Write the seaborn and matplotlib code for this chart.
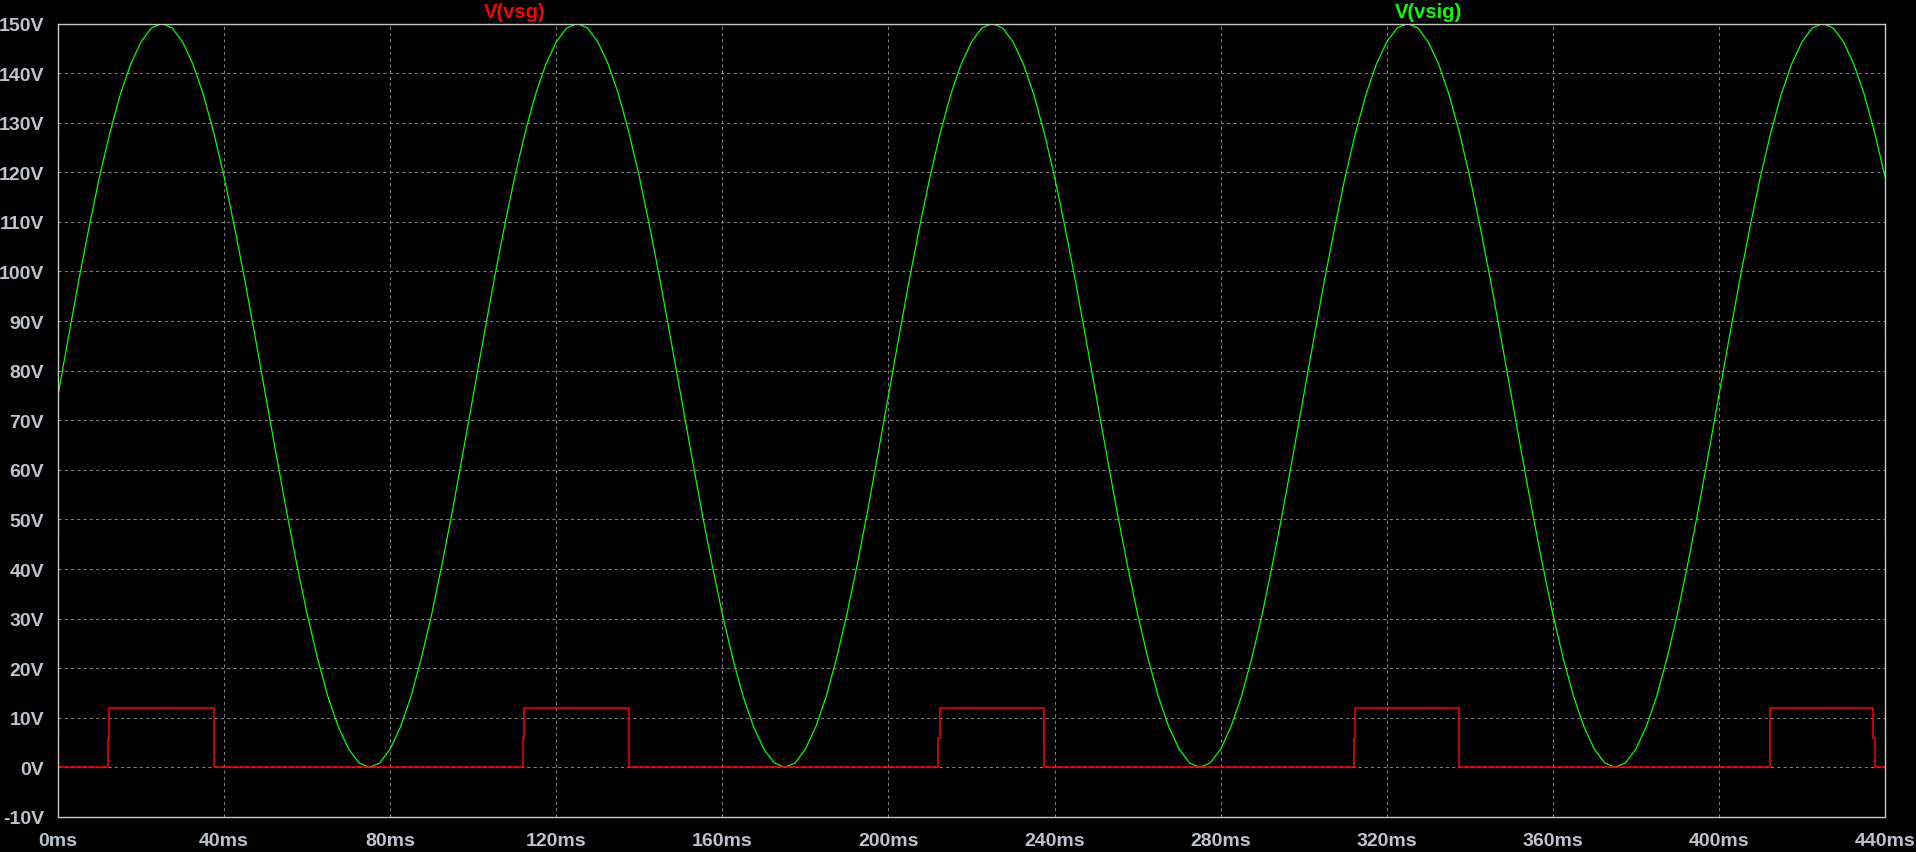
import matplotlib
matplotlib.use("Agg")
import matplotlib.pyplot as plt
import seaborn as sns
import numpy as np
import pandas as pd

# ---------------- data ----------------
vsig_step_ms = 2.5
vsig_v = [
    75.0, 86.7, 98.2, 109.0, 119.1, 128.0, 135.7, 141.8, 146.3, 149.1,
    150.0, 149.1, 146.3, 141.8, 135.7, 128.0, 119.1, 109.0, 98.2, 86.7,
    75.0, 63.3, 51.8, 41.0, 30.9, 22.0, 14.3, 8.2, 3.7, 0.9,
    0.0, 0.9, 3.7, 8.2, 14.3, 22.0, 30.9, 41.0, 51.8, 63.3,
    75.0, 86.7, 98.2, 109.0, 119.1, 128.0, 135.7, 141.8, 146.3, 149.1,
    150.0, 149.1, 146.3, 141.8, 135.7, 128.0, 119.1, 109.0, 98.2, 86.7,
    75.0, 63.3, 51.8, 41.0, 30.9, 22.0, 14.3, 8.2, 3.7, 0.9,
    0.0, 0.9, 3.7, 8.2, 14.3, 22.0, 30.9, 41.0, 51.8, 63.3,
    75.0, 86.7, 98.2, 109.0, 119.1, 128.0, 135.7, 141.8, 146.3, 149.1,
    150.0, 149.1, 146.3, 141.8, 135.7, 128.0, 119.1, 109.0, 98.2, 86.7,
    75.0, 63.3, 51.8, 41.0, 30.9, 22.0, 14.3, 8.2, 3.7, 0.9,
    0.0, 0.9, 3.7, 8.2, 14.3, 22.0, 30.9, 41.0, 51.8, 63.3,
    75.0, 86.7, 98.2, 109.0, 119.1, 128.0, 135.7, 141.8, 146.3, 149.1,
    150.0, 149.1, 146.3, 141.8, 135.7, 128.0, 119.1, 109.0, 98.2, 86.7,
    75.0, 63.3, 51.8, 41.0, 30.9, 22.0, 14.3, 8.2, 3.7, 0.9,
    0.0, 0.9, 3.7, 8.2, 14.3, 22.0, 30.9, 41.0, 51.8, 63.3,
    75.0, 86.7, 98.2, 109.0, 119.1, 128.0, 135.7, 141.8, 146.3, 149.1,
    150.0, 149.1, 146.3, 141.8, 135.7, 128.0, 119.1,
]
vsig_t = [i * vsig_step_ms for i in range(len(vsig_v))]

# V(vsg): gate pulse corners (time in ms, volts)
vsg_t = [0.0, 12.0, 12.0, 12.3, 12.3, 37.5, 37.5,
         112.0, 112.0, 112.3, 112.3, 137.5, 137.5,
         212.0, 212.0, 212.3, 212.3, 237.5, 237.5,
         312.0, 312.0, 312.3, 312.3, 337.5, 337.5,
         412.4, 412.4, 437.2, 437.2, 437.6, 437.6, 440.0]
vsg_v = [0.0, 0.0, 6.0, 6.0, 12.0, 12.0, 0.0,
         0.0, 6.0, 6.0, 12.0, 12.0, 0.0,
         0.0, 6.0, 6.0, 12.0, 12.0, 0.0,
         0.0, 6.0, 6.0, 12.0, 12.0, 0.0,
         0.0, 12.0, 12.0, 6.0, 6.0, 0.0, 0.0]

x_ticks = [0, 40, 80, 120, 160, 200, 240, 280, 320, 360, 400, 440]
x_tick_labels = [f"{v}ms" for v in x_ticks]
y_ticks = [-10, 0, 10, 20, 30, 40, 50, 60, 70, 80, 90, 100, 110, 120, 130, 140, 150]
y_tick_labels = [f"{v}V" for v in y_ticks]
trace_names = ["V(vsg)", "V(vsig)"]

# ---------------- style ----------------
sns.set_theme(style="dark")
plt.rcParams["font.family"] = ["Liberation Sans", "DejaVu Sans"]
plt.rcParams["font.weight"] = "bold"

tick_col = "#bcc4ce"
spine_col = "#c8c8c8"
grid_col = "#7f7f7f"
green = "#00ff00"
red = "#ff0000"

fig = plt.figure(figsize=(19.16, 8.53), dpi=100, facecolor="black")
ax = fig.add_axes([58 / 1916, (853 - 818) / 853, 1827 / 1916, (818 - 24.5) / 853])
ax.set_facecolor("black")

df_sig = pd.DataFrame({"t": vsig_t, "v": vsig_v})
df_sg = pd.DataFrame({"t": vsg_t, "v": vsg_v})

sns.lineplot(data=df_sig, x="t", y="v", ax=ax, color=green, linewidth=0.9,
             estimator=None, sort=False)
sns.lineplot(data=df_sg, x="t", y="v", ax=ax, color=red, linewidth=1.1,
             estimator=None, sort=False)

ax.set_xlim(0, 440)
ax.set_ylim(-10, 150)
ax.set_xticks(x_ticks)
ax.set_xticklabels(x_tick_labels)
ax.set_yticks(y_ticks)
ax.set_yticklabels(y_tick_labels)
ax.set_xlabel("")
ax.set_ylabel("")

ax.grid(True, color=grid_col, linestyle=(0, (3, 3)), linewidth=0.75)
ax.set_axisbelow(True)

for s in ax.spines.values():
    s.set_visible(True)
    s.set_color(spine_col)
    s.set_linewidth(1.0)

ax.tick_params(axis="both", which="major", direction="out", length=7.5,
               width=1.0, color=spine_col, labelcolor=tick_col, labelsize=14)
ax.tick_params(axis="x", pad=3)
ax.tick_params(axis="y", pad=2.5)
for lab in ax.get_xticklabels() + ax.get_yticklabels():
    lab.set_fontweight("bold")

ax.text(0.25, 1.003, trace_names[0], transform=ax.transAxes, ha="center",
        va="bottom", color=red, fontsize=14.5, fontweight="bold")
ax.text(0.75, 1.003, trace_names[1], transform=ax.transAxes, ha="center",
        va="bottom", color=green, fontsize=14.5, fontweight="bold")

fig.savefig("out.png", dpi=100, facecolor="black")
